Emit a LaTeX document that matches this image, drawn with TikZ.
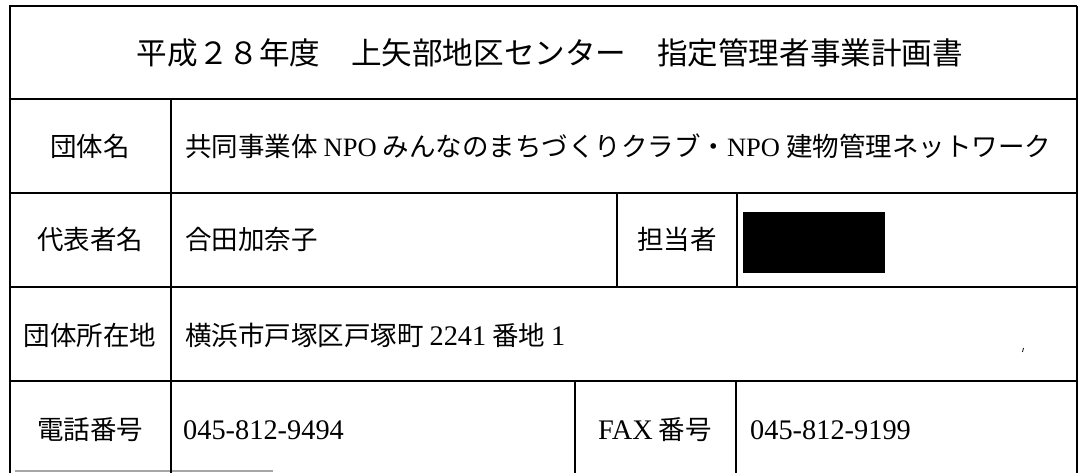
\documentclass[tikz,border=0pt]{standalone}
\usepackage{fontspec}
\setmainfont{Liberation Serif}
\newfontfamily\jp{Noto Sans CJK JP}
\newfontfamily\latf[Scale=1.07]{Liberation Serif}
\newcommand\lt[1]{{\rmfamily #1}}
\newcommand\ltb[1]{{\latf #1}}
\begin{document}
\begin{tikzpicture}[x=1pt,y=-1pt,
  rule/.style={line width=2pt,black},
  lab/.style={anchor=base,inner sep=0pt,font=\jp\fontsize{26.5}{30}\selectfont},
  val/.style={anchor=base west,inner sep=0pt,font=\jp\fontsize{26.5}{30}\selectfont},
  ttl/.style={anchor=base,inner sep=0pt,font=\jp\fontsize{30.6}{34}\selectfont}]
\fill[white] (0,0) rectangle (1078,473);
\useasboundingbox (0,0) rectangle (1078,473);
% horizontal rules
\draw[rule] (9,6.5) -- (1077,6.5);
\draw[rule] (9,99) -- (1077,99);
\draw[rule] (9,193) -- (1077,193);
\draw[rule] (9,286.5) -- (1077,286.5);
\draw[rule] (9,380.5) -- (1077,380.5);
\draw[line width=1.2pt,black!35] (15,471) -- (273,471);
% vertical rules
\draw[rule] (10,6.5) -- (10,473);
\draw[rule] (1076.5,6.5) -- (1076.5,473);
\draw[rule] (170.5,99) -- (170.5,473);
\draw[rule] (617,193) -- (617,286.5);
\draw[rule] (737,193) -- (737,286.5);
\draw[rule] (575,380.5) -- (575,473);
\draw[rule] (736,380.5) -- (736,473);
% redaction box
\fill[black] (743,212) rectangle (885,273);
% speck
\draw[line width=0.8pt] (1023.5,348) -- (1022.5,352);
% texts
\node[ttl] (title) at (550,64.5) {平成２８年度　上矢部地区センター　指定管理者事業計画書};
\node[lab] (l1) at (90,157) {団体名};
\node[val] (v1) at (185,157) {共同事業体 \lt{NPO} みんなのまちづくりクラブ・\lt{NPO} 建物管理ネットワーク};
\node[lab] (l2) at (90,249) {代表者名};
\node[val] (v2) at (185,249) {合田加奈子};
\node[lab] (l2b) at (677,249) {担当者};
\node[lab] (l3) at (90,345) {団体所在地};
\node[val] (v3) at (185,345) {横浜市戸塚区戸塚町 \ltb{2241} 番地 \ltb{1}};
\node[lab] (l4) at (90,439) {電話番号};
\node[val] (v4) at (183,439) {\ltb{045-812-9494}};
\node[lab] (l4b) at (655,439) {\ltb{FAX} 番号};
\node[val] (v4b) at (750,439) {\ltb{045-812-9199}};
\end{tikzpicture}
\end{document}
